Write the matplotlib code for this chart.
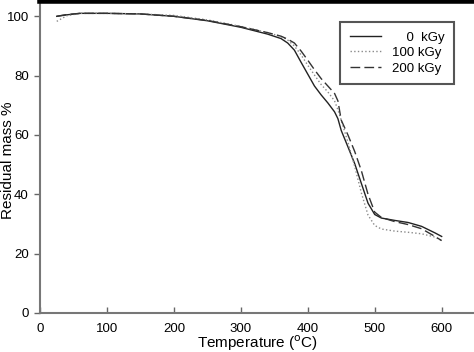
import numpy as np
import matplotlib.pyplot as plt

plt.rcParams['font.family'] = ['Liberation Sans', 'DejaVu Sans']

# TGA curves
temps = [25, 40, 60, 100, 150, 200, 250, 300, 340, 360, 370, 380, 390, 400,
         410, 420, 430, 440, 445, 450, 460, 470, 480, 490, 500, 510, 530,
         550, 570, 590, 600]
mass_0 = [100.0, 100.5, 101.0, 101.0, 100.8, 100.0, 98.5, 96.3, 94.0, 92.5,
          91.0, 88.6, 84.5, 80.5, 76.5, 73.5, 70.8, 67.8, 65.5, 61.5, 56.0,
          50.4, 43.7, 37.0, 33.2, 32.0, 31.2, 30.5, 29.2, 27.0, 25.8]
mass_100 = [98.3, 100.2, 101.0, 101.0, 100.8, 100.3, 98.8, 96.6, 94.5, 93.2,
            92.0, 90.0, 87.0, 83.5, 80.2, 77.0, 74.5, 71.5, 68.5, 65.0, 57.5,
            49.5, 40.5, 33.0, 29.5, 28.3, 27.6, 27.2, 26.7, 25.6, 24.4]
mass_200 = [100.0, 100.6, 101.0, 101.0, 100.8, 100.0, 98.6, 96.5, 94.5, 93.3,
            92.3, 91.0, 88.3, 85.2, 82.0, 79.0, 76.5, 74.0, 71.5, 65.0, 60.0,
            54.5, 48.0, 40.0, 34.0, 32.2, 30.8, 29.8, 28.4, 25.8, 24.4]
labels = ['    0  kGy', '100 kGy', '200 kGy']

fig = plt.figure(figsize=(4.74, 3.52), dpi=100)
ax = fig.add_axes([0.0844, 0.1108, 0.918, 0.885])

ax.plot(temps, mass_0, color='#222222', lw=1.0, ls='-', label=labels[0])
ax.plot(temps, mass_100, color='#8a8a8a', lw=1.0, ls=':', label=labels[1])
ax.plot(temps, mass_200, color='#333333', lw=1.0, ls=(0, (7, 3)), label=labels[2])

ax.set_xlim(0, 650)
ax.set_ylim(0, 105)
ax.set_xticks(np.arange(0, 601, 100))
ax.set_yticks(np.arange(0, 101, 20))
ax.tick_params(axis='x', direction='in', length=4, width=1, color='#666666',
               labelsize=9.5, pad=7)
ax.tick_params(axis='y', direction='out', length=4, width=1, color='#666666',
               labelsize=9.5, pad=4)

for side in ['left', 'bottom']:
    ax.spines[side].set_color('#777777')
    ax.spines[side].set_linewidth(1.5)
ax.spines['right'].set_visible(False)
ax.spines['top'].set_color('black')
ax.spines['top'].set_linewidth(4)

ax.set_xlabel('Temperature ($^{\\rm o}$C)', fontsize=11)
ax.xaxis.set_label_coords(0.5, -0.066)
ax.set_ylabel('Residual mass %', fontsize=11)
ax.yaxis.set_label_coords(-0.058, 0.49)

leg = ax.legend(loc='upper right', bbox_to_anchor=(0.966, 0.955), fancybox=False,
                fontsize=9.5, handlelength=2.4, handletextpad=0.8,
                labelspacing=0.25, borderpad=0.7, framealpha=1)
leg.get_frame().set_edgecolor('#555555')
leg.get_frame().set_linewidth(1.5)

fig.savefig('out.png', dpi=100)
